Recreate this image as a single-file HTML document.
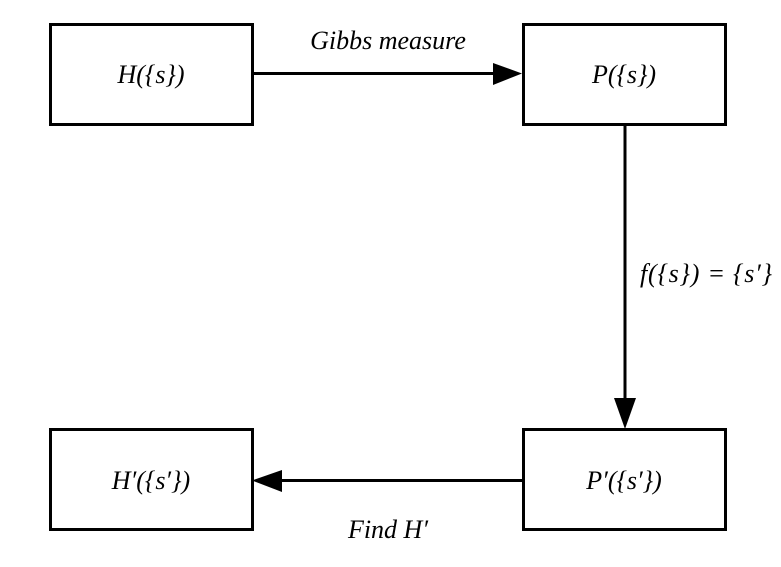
<!DOCTYPE html>
<html><head><meta charset="utf-8"><style>
html,body{margin:0;padding:0;background:#fff;}
svg{display:block;}
text{font-family:"Liberation Serif",serif;font-style:italic;font-size:26px;fill:#000;}
</style></head><body>
<svg width="781" height="567" viewBox="0 0 781 567">
<g fill="none" stroke="#000" stroke-width="3">
<rect x="50.5" y="24.5" width="202" height="100"/>
<rect x="523.5" y="24.5" width="202" height="100"/>
<rect x="50.5" y="429.5" width="202" height="100"/>
<rect x="523.5" y="429.5" width="202" height="100"/>
<line x1="252" y1="73.5" x2="495" y2="73.5"/>
<line x1="625" y1="125" x2="625" y2="400"/>
<line x1="522" y1="480.5" x2="280" y2="480.5"/>
</g>
<polygon points="493,63 522,73.5 493,85" fill="#000"/>
<polygon points="614,398 625,429 636,398" fill="#000"/>
<polygon points="282,470 252,480.5 282,492" fill="#000"/>
<text x="151" y="83" text-anchor="middle">H({s})</text>
<text x="624" y="83" text-anchor="middle">P({s})</text>
<text x="151" y="489" text-anchor="middle">H′({s′})</text>
<text x="624" y="489" text-anchor="middle">P′({s′})</text>
<text x="388" y="49" text-anchor="middle">Gibbs measure</text>
<text x="640" y="282" textLength="132">f({s}) = {s′}</text>
<text x="388" y="538" text-anchor="middle">Find H′</text>
</svg>
</body></html>
